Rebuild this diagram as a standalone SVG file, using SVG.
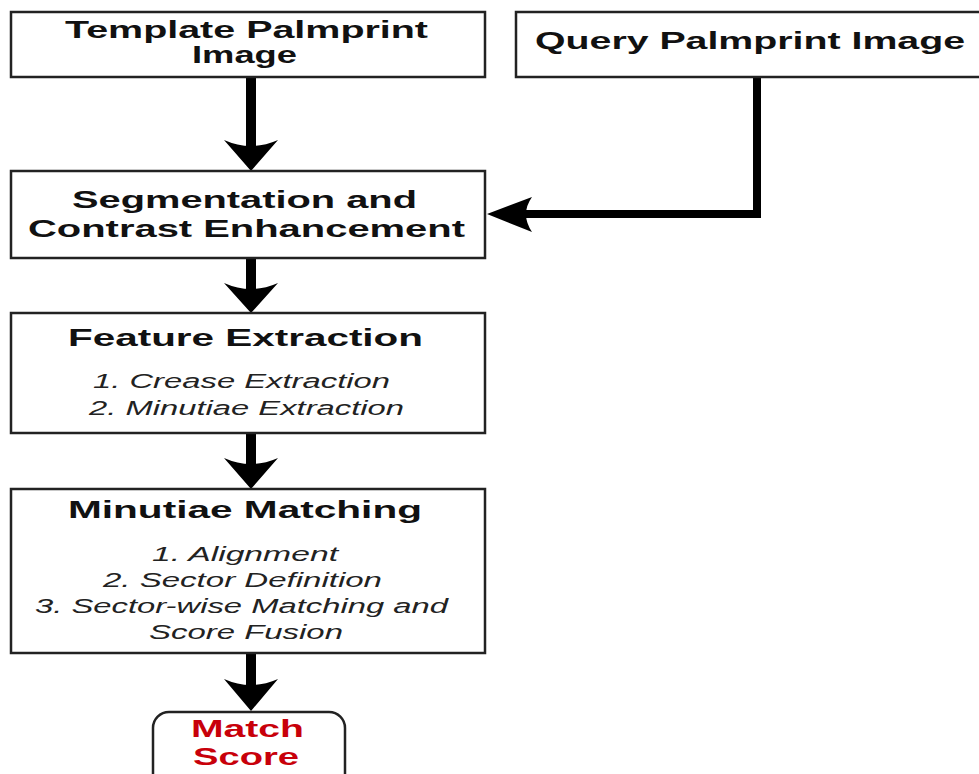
<svg xmlns="http://www.w3.org/2000/svg" width="979" height="774" viewBox="0 0 979 774">
<style>
.box{fill:#fff;stroke:#222;stroke-width:2.5}
.h{font-family:"Liberation Sans",Arial,sans-serif;font-weight:bold;font-size:23px;fill:#111}
.i{font-family:"Liberation Sans",Arial,sans-serif;font-style:italic;font-size:20px;fill:#222}
.r{font-family:"Liberation Sans",Arial,sans-serif;font-weight:bold;font-size:24px;fill:#c8000a}
.ln{stroke:#000;fill:none}
.ah{fill:#000}
</style>
<rect width="979" height="774" fill="#fff"/>
<g id="connectors">
<line class="ln" x1="251" y1="77" x2="251" y2="150" stroke-width="10"/>
<path class="ah" d="M251,171 L224,140 Q251,152 278,140 Z"/>
<line class="ln" x1="251" y1="258" x2="251" y2="292" stroke-width="10"/>
<path class="ah" d="M251,313 L224,283 Q251,295 278,283 Z"/>
<line class="ln" x1="251" y1="433" x2="251" y2="468" stroke-width="10"/>
<path class="ah" d="M251,489 L224,458 Q251,470 278,458 Z"/>
<line class="ln" x1="251" y1="653" x2="251" y2="690" stroke-width="10"/>
<path class="ah" d="M251,711 L224,679 Q251,691 278,679 Z"/>
<polyline class="ln" points="757,77 757,214 520,214" stroke-width="8"/>
<path class="ah" d="M487,214 L532,197 Q520,214 532,232 Z"/>
</g>
<g id="template">
<rect class="box" x="11" y="12" width="474" height="65"/>
<text class="h" x="65" y="38" textLength="363" lengthAdjust="spacingAndGlyphs">Template Palmprint</text>
<text class="h" x="192" y="63" textLength="105" lengthAdjust="spacingAndGlyphs">Image</text>
</g>
<g id="query">
<rect class="box" x="516" y="12" width="475" height="65"/>
<text class="h" x="535" y="49" textLength="430" lengthAdjust="spacingAndGlyphs">Query Palmprint Image</text>
</g>
<g id="segmentation">
<rect class="box" x="11" y="171" width="474" height="87"/>
<text class="h" x="72" y="208" textLength="345" lengthAdjust="spacingAndGlyphs">Segmentation and</text>
<text class="h" x="28" y="237" textLength="437" lengthAdjust="spacingAndGlyphs">Contrast Enhancement</text>
</g>
<g id="feature">
<rect class="box" x="11" y="313" width="474" height="120"/>
<text class="h" x="68" y="346" textLength="355" lengthAdjust="spacingAndGlyphs">Feature Extraction</text>
<text class="i" x="93" y="388" textLength="297" lengthAdjust="spacingAndGlyphs">1. Crease Extraction</text>
<text class="i" x="89" y="415" textLength="315" lengthAdjust="spacingAndGlyphs">2. Minutiae Extraction</text>
</g>
<g id="matching">
<rect class="box" x="11" y="489" width="474" height="164"/>
<text class="h" x="68" y="518" textLength="354" lengthAdjust="spacingAndGlyphs">Minutiae Matching</text>
<text class="i" x="152" y="561" textLength="186" lengthAdjust="spacingAndGlyphs">1. Alignment</text>
<text class="i" x="103" y="587" textLength="279" lengthAdjust="spacingAndGlyphs">2. Sector Definition</text>
<text class="i" x="35" y="613" textLength="413" lengthAdjust="spacingAndGlyphs">3. Sector-wise Matching and</text>
<text class="i" x="149" y="639" textLength="194" lengthAdjust="spacingAndGlyphs">Score Fusion</text>
</g>
<g id="score">
<rect class="box" x="153" y="712" width="192" height="90" rx="16" ry="16"/>
<text class="r" x="191" y="737" textLength="113" lengthAdjust="spacingAndGlyphs">Match</text>
<text class="r" x="193" y="765" textLength="106" lengthAdjust="spacingAndGlyphs">Score</text>
</g>
</svg>
